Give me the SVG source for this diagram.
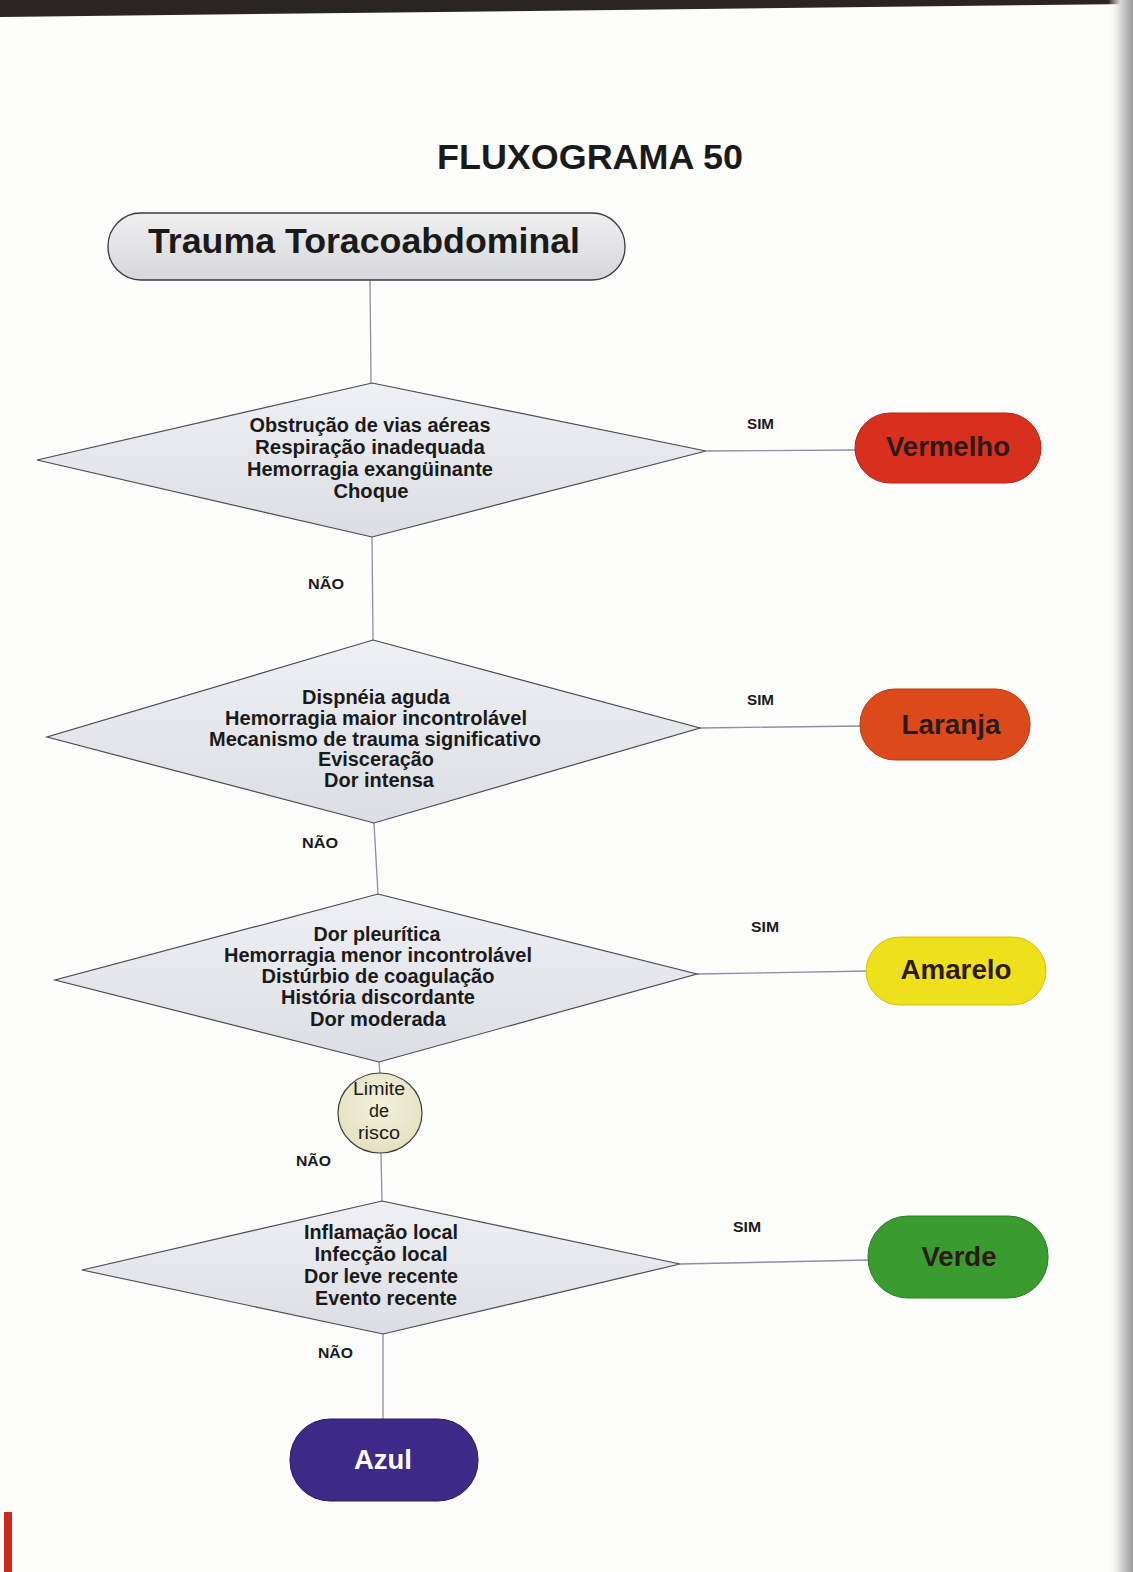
<svg xmlns="http://www.w3.org/2000/svg" width="1133" height="1572" viewBox="0 0 1133 1572">
<defs>
<linearGradient id="gDia" x1="0" y1="0" x2="0" y2="1">
<stop offset="0" stop-color="#eef0f4"/><stop offset="1" stop-color="#dcdee5"/>
</linearGradient>
<linearGradient id="gStart" x1="0" y1="0" x2="0" y2="1">
<stop offset="0" stop-color="#efeff0"/><stop offset="1" stop-color="#d6d7da"/>
</linearGradient>
<linearGradient id="gEdge" x1="0" y1="0" x2="1" y2="0">
<stop offset="0" stop-color="#ffffff" stop-opacity="0"/><stop offset="0.5" stop-color="#d8d8d8"/><stop offset="1" stop-color="#9a9a9a"/>
</linearGradient>
<radialGradient id="gCircle" cx="0.5" cy="0.4" r="0.6">
<stop offset="0" stop-color="#f3f1dc"/><stop offset="1" stop-color="#e4e1c2"/>
</radialGradient>
</defs>
<style>
.dia{fill:url(#gDia);stroke:#4a4a52;stroke-width:1.2}
.con{stroke:#8a90a8;stroke-width:1.3;fill:none}
.t{font-family:"Liberation Sans",Arial,sans-serif;font-weight:bold;fill:#1a1a1a}
.dt{font-size:20.5px;text-anchor:middle}
.lbl{font-size:15px;text-anchor:start}
.pt{font-size:27px;text-anchor:middle;fill:#2b1a18}
.ct{font-family:"Liberation Sans",Arial,sans-serif;font-size:18px;text-anchor:middle;fill:#1a1a1a}
</style>
<rect x="0" y="0" width="1133" height="1572" fill="#fdfdfb"/>
<polygon points="0,0 1133,0 1133,4 0,17" fill="#2a2424"/>
<rect x="1108" y="0" width="25" height="1572" fill="url(#gEdge)"/>
<rect x="4" y="1512" width="8" height="60" fill="#d0281e"/>

<text class="t" x="437" y="169" font-size="35" textLength="306" lengthAdjust="spacingAndGlyphs">FLUXOGRAMA 50</text>

<g id="connectors">
<line class="con" x1="370" y1="280" x2="371" y2="383"/>
<line class="con" x1="706" y1="451" x2="858" y2="450"/>
<line class="con" x1="372" y1="537" x2="373" y2="640"/>
<line class="con" x1="700" y1="728" x2="862" y2="726"/>
<line class="con" x1="374" y1="823" x2="378" y2="894"/>
<line class="con" x1="697" y1="974" x2="870" y2="971"/>
<line class="con" x1="379" y1="1062" x2="380" y2="1073"/>
<line class="con" x1="381" y1="1153" x2="382" y2="1201"/>
<line class="con" x1="680" y1="1264" x2="870" y2="1260"/>
<line class="con" x1="383" y1="1334" x2="383" y2="1421"/>
<text class="t lbl" x="747" y="429" textLength="27" lengthAdjust="spacingAndGlyphs">SIM</text>
<text class="t lbl" x="308" y="589" textLength="36" lengthAdjust="spacingAndGlyphs">NÃO</text>
<text class="t lbl" x="747" y="705" textLength="27" lengthAdjust="spacingAndGlyphs">SIM</text>
<text class="t lbl" x="302" y="848" textLength="36" lengthAdjust="spacingAndGlyphs">NÃO</text>
<text class="t lbl" x="751" y="932" textLength="28" lengthAdjust="spacingAndGlyphs">SIM</text>
<text class="t lbl" x="296" y="1166" textLength="35" lengthAdjust="spacingAndGlyphs">NÃO</text>
<text class="t lbl" x="733" y="1232" textLength="28" lengthAdjust="spacingAndGlyphs">SIM</text>
<text class="t lbl" x="318" y="1358" textLength="35" lengthAdjust="spacingAndGlyphs">NÃO</text>
</g>

<g id="start">
<rect x="108" y="213" width="517" height="67" rx="33" ry="33" fill="url(#gStart)" stroke="#3a3a40" stroke-width="1.3"/>
<text class="t" x="148" y="253" font-size="35" textLength="432" lengthAdjust="spacingAndGlyphs">Trauma Toracoabdominal</text>
</g>

<g id="d1">
<polygon class="dia" points="372,383 706,451 372,537 37,460"/>
<text class="t dt" x="370" y="432" textLength="241" lengthAdjust="spacingAndGlyphs">Obstrução de vias aéreas</text>
<text class="t dt" x="370" y="454" textLength="230" lengthAdjust="spacingAndGlyphs">Respiração inadequada</text>
<text class="t dt" x="370" y="476" textLength="246" lengthAdjust="spacingAndGlyphs">Hemorragia exangüinante</text>
<text class="t dt" x="371" y="498" textLength="75" lengthAdjust="spacingAndGlyphs">Choque</text>
</g>

<g id="vermelho">
<rect x="855" y="413" width="186" height="70" rx="35" ry="35" fill="#d8301f" stroke="#b02416" stroke-width="1"/>
<text class="t pt" x="948" y="456" textLength="124" lengthAdjust="spacingAndGlyphs">Vermelho</text>
</g>

<g id="d2">
<polygon class="dia" points="373,640 700,728 374,823 47,737"/>
<text class="t dt" x="376" y="704" textLength="148" lengthAdjust="spacingAndGlyphs">Dispnéia aguda</text>
<text class="t dt" x="376" y="725" textLength="302" lengthAdjust="spacingAndGlyphs">Hemorragia maior incontrolável</text>
<text class="t dt" x="375" y="746" textLength="332" lengthAdjust="spacingAndGlyphs">Mecanismo de trauma significativo</text>
<text class="t dt" x="376" y="766" textLength="116" lengthAdjust="spacingAndGlyphs">Evisceração</text>
<text class="t dt" x="379" y="787" textLength="110" lengthAdjust="spacingAndGlyphs">Dor intensa</text>
</g>

<g id="laranja">
<rect x="860" y="689" width="170" height="71" rx="35" ry="35" fill="#dc4a1c" stroke="#b83a12" stroke-width="1"/>
<text class="t pt" x="951" y="734" textLength="99" lengthAdjust="spacingAndGlyphs">Laranja</text>
</g>

<g id="d3">
<polygon class="dia" points="378,894 697,974 379,1062 55,980"/>
<text class="t dt" x="377" y="941" textLength="127" lengthAdjust="spacingAndGlyphs">Dor pleurítica</text>
<text class="t dt" x="378" y="962" textLength="308" lengthAdjust="spacingAndGlyphs">Hemorragia menor incontrolável</text>
<text class="t dt" x="378" y="983" textLength="233" lengthAdjust="spacingAndGlyphs">Distúrbio de coagulação</text>
<text class="t dt" x="378" y="1004" textLength="194" lengthAdjust="spacingAndGlyphs">História discordante</text>
<text class="t dt" x="378" y="1026" textLength="136" lengthAdjust="spacingAndGlyphs">Dor moderada</text>
</g>

<g id="amarelo">
<rect x="866" y="937" width="180" height="68" rx="34" ry="34" fill="#eee11c" stroke="#cfc210" stroke-width="1"/>
<text class="t pt" x="956" y="979" textLength="111" lengthAdjust="spacingAndGlyphs">Amarelo</text>
</g>

<g id="limite">
<ellipse cx="380" cy="1113" rx="42" ry="40" fill="url(#gCircle)" stroke="#3e3e38" stroke-width="1.2"/>
<text class="ct" x="379" y="1095" textLength="52" lengthAdjust="spacingAndGlyphs">Limite</text>
<text class="ct" x="379" y="1117">de</text>
<text class="ct" x="379" y="1139" textLength="42" lengthAdjust="spacingAndGlyphs">risco</text>
</g>

<g id="d4">
<polygon class="dia" points="382,1201 680,1264 383,1334 82,1270"/>
<text class="t dt" x="381" y="1239" textLength="154" lengthAdjust="spacingAndGlyphs">Inflamação local</text>
<text class="t dt" x="381" y="1261" textLength="133" lengthAdjust="spacingAndGlyphs">Infecção local</text>
<text class="t dt" x="381" y="1283" textLength="154" lengthAdjust="spacingAndGlyphs">Dor leve recente</text>
<text class="t dt" x="386" y="1305" textLength="142" lengthAdjust="spacingAndGlyphs">Evento recente</text>
</g>

<g id="verde">
<rect x="868" y="1216" width="180" height="82" rx="40" ry="40" fill="#3a9b2e" stroke="#2a7e20" stroke-width="1"/>
<text class="t pt" x="959" y="1266" textLength="75" lengthAdjust="spacingAndGlyphs">Verde</text>
</g>

<g id="azul">
<rect x="290" y="1419" width="188" height="82" rx="40" ry="40" fill="#3c2a86" stroke="#2a1c66" stroke-width="1"/>
<text class="t pt" x="383" y="1469" style="fill:#ffffff" textLength="58" lengthAdjust="spacingAndGlyphs">Azul</text>
</g>
</svg>
